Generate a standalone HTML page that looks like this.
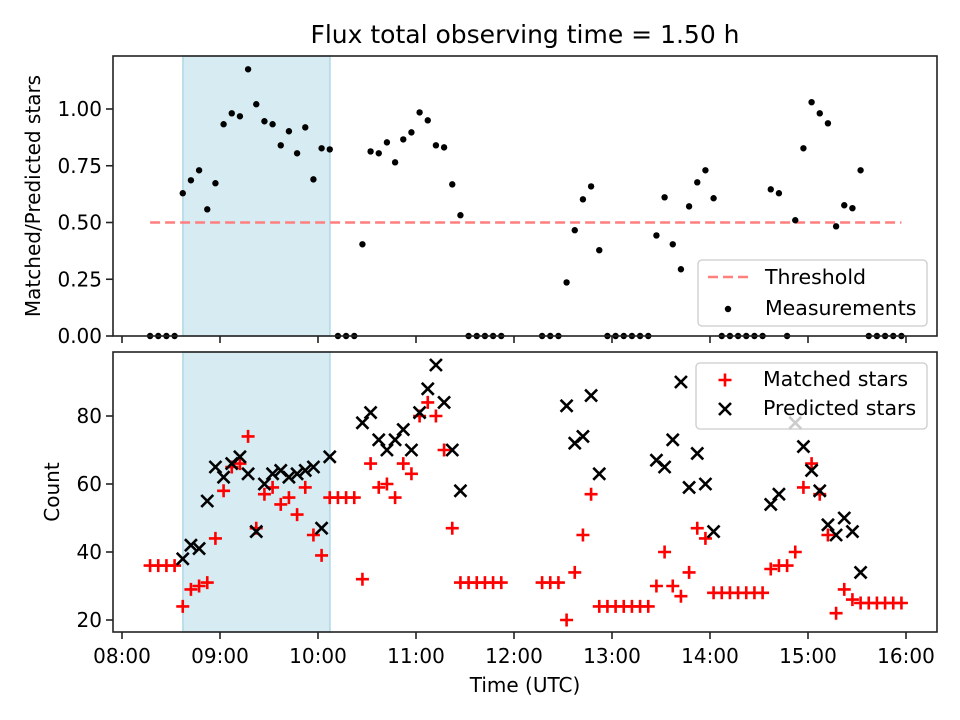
<!DOCTYPE html>
<html><head><meta charset="utf-8"><style>
html,body{margin:0;padding:0;background:#fff;}
svg{display:block;font-family:"DejaVu Sans","Liberation Sans",sans-serif;}
</style></head><body>
<svg id="chart" width="960" height="720" viewBox="0 0 960 720" xmlns="http://www.w3.org/2000/svg">
<rect width="960" height="720" fill="#fff"/>
<text x="525" y="43" font-size="25" text-anchor="middle">Flux total observing time = 1.50 h</text>
<g id="topPanel"></g><g id="botPanel"></g>
<text x="525" y="692" font-size="20" text-anchor="middle">Time (UTC)</text>
<text transform="translate(40,196) rotate(-90)" font-size="20" text-anchor="middle">Matched/Predicted stars</text>
<text transform="translate(59,492) rotate(-90)" font-size="20" text-anchor="middle">Count</text>
</svg>
<script>
// data: minutes after 08:00 = T0 + STEP*k
const T0 = 17.2, STEP = 5;
const ratio = [0,0,0,0,0.629,0.686,0.730,0.558,0.673,0.933,0.981,0.968,1.175,1.021,0.946,0.933,0.840,0.902,0.805,0.919,0.690,0.827,0.822,0,0,0,0.404,0.813,0.805,0.853,0.765,0.866,0.897,0.985,0.950,0.840,0.831,0.668,0.532,0,0,0,0,0,null,null,null,null,0,0,0,0.236,0.466,0.602,0.659,0.378,0,0,0,0,0,0,0.443,0.611,0.404,0.294,0.571,0.677,0.730,0.607,0,0,0,0,0,0,0.646,0.629,0,0.510,0.827,1.030,0.981,0.937,0.483,0.576,0.563,0.730,0,0,0,0,0];
const matched = [36,36,36,36,24,29,30,31,44,58,65,66,74,47,57,59,54,56,51,59,45,39,56,56,56,56,32,66,59,60,56,66,63,80,84,80,70,47,31,31,31,31,31,31,null,null,null,null,31,31,31,20,34,45,57,24,24,24,24,24,24,24,30,40,30,27,34,47,44,28,28,28,28,28,28,28,35,36,36,40,59,66,57,45,22,29,26,25,25,25,25,25,25];
const predicted = [null,null,null,null,38,42,41,55,65,62,66,68,63,46,60,63,64,62,63,64,65,47,68,null,null,null,78,81,73,70,73,76,70,81,88,95,84,70,58,null,null,null,null,null,null,null,null,null,null,null,null,83,72,74,86,63,null,null,null,null,null,null,67,65,73,90,59,69,60,46,null,null,null,null,null,null,54,57,null,78,71,64,58,48,45,50,46,34,null,null,null,null,null];
const threshold = 0.5;
const thresholdRange = [17.2, 477.2];
const band = [37.3, 127.3];
const xTicks = [0,60,120,180,240,300,360,420,480];
const xTickLabels = ["08:00","09:00","10:00","11:00","12:00","13:00","14:00","15:00","16:00"];
const topTicks = [0,0.25,0.5,0.75,1.0];
const topTickLabels = ["0.00","0.25","0.50","0.75","1.00"];
const botTicks = [20,40,60,80];

const NS="http://www.w3.org/2000/svg";
const L=113,R=937;
const X=t=>122+t*98/60;
const Yt=v=>336-v*227;
const Yb=v=>620-(v-20)*3.4;
function el(tag,attrs,parent){const e=document.createElementNS(NS,tag);for(const k in attrs)e.setAttribute(k,attrs[k]);parent.appendChild(e);return e;}
const topG=document.getElementById('topPanel'), botG=document.getElementById('botPanel');

function panel(g,y0,y1,name){
  const b=el('rect',{x:X(band[0]),y:y0,width:X(band[1])-X(band[0]),height:y1-y0,fill:'#add8e6','fill-opacity':0.5,stroke:'#add8e6','stroke-width':1.5},g);
  
  
  xTicks.forEach((t,i)=>{
    const tk=el('line',{x1:X(t),x2:X(t),y1:y1,y2:y1+7,stroke:'#222','stroke-width':1.6},g);
    
    
  });
}
panel(topG,56,336,'top');
panel(botG,352,632,'bottom');

xTicks.forEach((t,i)=>{
  const tx=el('text',{x:X(t),y:663,'font-size':20,'text-anchor':'middle'},botG);
  tx.textContent=xTickLabels[i];
  
  
});
topTicks.forEach((v,i)=>{
  const tk=el('line',{x1:L-7,x2:L,y1:Yt(v),y2:Yt(v),stroke:'#222','stroke-width':1.6},topG);
  
  
  const tx=el('text',{x:L-11,y:Yt(v)+7,'font-size':20,'text-anchor':'end'},topG);
  tx.textContent=topTickLabels[i];
  
  
});
botTicks.forEach(v=>{
  const tk=el('line',{x1:L-7,x2:L,y1:Yb(v),y2:Yb(v),stroke:'#222','stroke-width':1.6},botG);
  
  
  const tx=el('text',{x:L-11,y:Yb(v)+7,'font-size':20,'text-anchor':'end'},botG);
  tx.textContent=String(v);
  
  
});

const th=el('line',{x1:X(thresholdRange[0]),x2:X(thresholdRange[1]),y1:Yt(threshold),y2:Yt(threshold),stroke:'#ff7f7f','stroke-width':2.5,'stroke-dasharray':'10 5'},topG);



ratio.forEach((v,k)=>{
  if(v===null)return;
  const c=el('circle',{cx:X(T0+STEP*k),cy:Yt(v),r:3.2,fill:'#000'},topG);
  
  
});
function plus(g,x,y,name){
  const p=el('path',{d:`M${x-6.5},${y}H${x+6.5}M${x},${y-6.5}V${y+6.5}`,stroke:'#ff0000','stroke-width':2.6,fill:'none'},g);
  
  
}
function cross(g,x,y,name){
  const p=el('path',{d:`M${x-6},${y-6}L${x+6},${y+6}M${x-6},${y+6}L${x+6},${y-6}`,stroke:'#000','stroke-width':2.6,fill:'none'},g);
  
  
}
matched.forEach((v,k)=>{ if(v!==null) plus(botG,X(T0+STEP*k),Yb(v),'matched-point'); });
predicted.forEach((v,k)=>{ if(v!==null) cross(botG,X(T0+STEP*k),Yb(v),'predicted-point'); });

[[topG,56,336,'top'],[botG,352,632,'bottom']].forEach(([g,a,b,n])=>{
  const f=el('rect',{x:L,y:a,width:R-L,height:b-a,fill:'none',stroke:'#222','stroke-width':1.6},g);
  
  
});

const lg1=el('g',{},topG);


el('rect',{x:698,y:260,width:229,height:66,rx:4,fill:'#fff','fill-opacity':0.8,stroke:'#ccc','stroke-width':1.3},lg1);
el('line',{x1:708,x2:749,y1:277,y2:277,stroke:'#ff7f7f','stroke-width':2.5,'stroke-dasharray':'10 5'},lg1);
let t1=el('text',{x:765,y:284,'font-size':20.5},lg1);t1.textContent='Threshold';
el('circle',{cx:728,cy:309,r:3.2,fill:'#000'},lg1);
let t2=el('text',{x:765,y:315,'font-size':20.5},lg1);t2.textContent='Measurements';

const lg2=el('g',{},botG);


el('rect',{x:696,y:363,width:231,height:66,rx:4,fill:'#fff','fill-opacity':0.8,stroke:'#ccc','stroke-width':1.3},lg2);
plus(lg2,725,380,'legend-matched-marker');
let t3=el('text',{x:763,y:386,'font-size':20.5},lg2);t3.textContent='Matched stars';
cross(lg2,725,409,'legend-predicted-marker');
let t4=el('text',{x:763,y:415,'font-size':20.5},lg2);t4.textContent='Predicted stars';
</script>
</body></html>
